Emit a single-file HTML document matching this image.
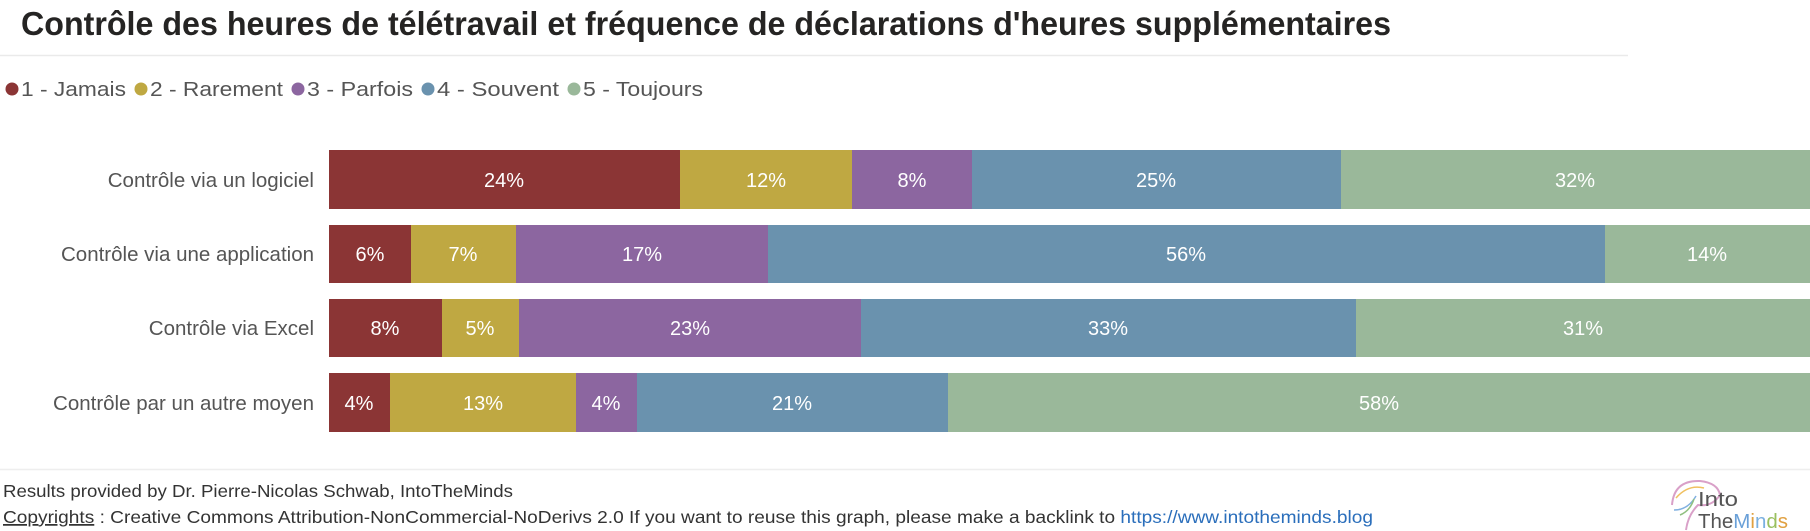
<!DOCTYPE html>
<html><head><meta charset="utf-8"><style>
html,body{margin:0;padding:0;background:#fff;}
svg{display:block;}
text{font-family:"Liberation Sans",sans-serif;}
</style></head><body>
<svg width="1810" height="531" viewBox="0 0 1810 531" xmlns="http://www.w3.org/2000/svg">
<text x="21" y="35" font-size="33" font-weight="bold" fill="#252423" textLength="1370" lengthAdjust="spacingAndGlyphs">Contrôle des heures de télétravail et fréquence de déclarations d'heures supplémentaires</text>
<line x1="0" y1="55.5" x2="1628" y2="55.5" stroke="#eaeaea" stroke-width="1.5"/>
<g font-size="20.5" fill="#555">
<circle cx="12" cy="89" r="6.5" fill="#8B3535"/><text x="21" y="96" textLength="105" lengthAdjust="spacingAndGlyphs">1 - Jamais</text>
<circle cx="141" cy="89" r="6.5" fill="#BFA842"/><text x="150" y="96" textLength="133" lengthAdjust="spacingAndGlyphs">2 - Rarement</text>
<circle cx="298" cy="89" r="6.5" fill="#8C66A0"/><text x="307" y="96" textLength="106" lengthAdjust="spacingAndGlyphs">3 - Parfois</text>
<circle cx="428" cy="89" r="6.5" fill="#6A92AE"/><text x="437" y="96" textLength="122" lengthAdjust="spacingAndGlyphs">4 - Souvent</text>
<circle cx="574" cy="89" r="6.5" fill="#9AB89A"/><text x="583" y="96" textLength="120" lengthAdjust="spacingAndGlyphs">5 - Toujours</text>
</g>
<g font-size="20.5" fill="#555" text-anchor="end">
<text x="314" y="187">Contrôle via un logiciel</text>
<text x="314" y="261">Contrôle via une application</text>
<text x="314" y="335">Contrôle via Excel</text>
<text x="314" y="410">Contrôle par un autre moyen</text>
</g>
<g>
<rect x="329" y="150" width="351" height="59" fill="#8B3535"/>
<rect x="680" y="150" width="172" height="59" fill="#BFA842"/>
<rect x="852" y="150" width="120" height="59" fill="#8C66A0"/>
<rect x="972" y="150" width="369" height="59" fill="#6A92AE"/>
<rect x="1341" y="150" width="469" height="59" fill="#9AB89A"/>

<rect x="329" y="225" width="82" height="58" fill="#8B3535"/>
<rect x="411" y="225" width="105" height="58" fill="#BFA842"/>
<rect x="516" y="225" width="252" height="58" fill="#8C66A0"/>
<rect x="768" y="225" width="837" height="58" fill="#6A92AE"/>
<rect x="1605" y="225" width="205" height="58" fill="#9AB89A"/>

<rect x="329" y="299" width="113" height="58" fill="#8B3535"/>
<rect x="442" y="299" width="77" height="58" fill="#BFA842"/>
<rect x="519" y="299" width="342" height="58" fill="#8C66A0"/>
<rect x="861" y="299" width="495" height="58" fill="#6A92AE"/>
<rect x="1356" y="299" width="454" height="58" fill="#9AB89A"/>

<rect x="329" y="373" width="61" height="59" fill="#8B3535"/>
<rect x="390" y="373" width="186" height="59" fill="#BFA842"/>
<rect x="576" y="373" width="61" height="59" fill="#8C66A0"/>
<rect x="637" y="373" width="311" height="59" fill="#6A92AE"/>
<rect x="948" y="373" width="862" height="59" fill="#9AB89A"/>
</g>
<g font-size="20" fill="#fff" text-anchor="middle">
<text x="504" y="187">24%</text><text x="766" y="187">12%</text><text x="912" y="187">8%</text><text x="1156" y="187">25%</text><text x="1575" y="187">32%</text>
<text x="370" y="261">6%</text><text x="463" y="261">7%</text><text x="642" y="261">17%</text><text x="1186" y="261">56%</text><text x="1707" y="261">14%</text>
<text x="385" y="335">8%</text><text x="480" y="335">5%</text><text x="690" y="335">23%</text><text x="1108" y="335">33%</text><text x="1583" y="335">31%</text>
<text x="359" y="410">4%</text><text x="483" y="410">13%</text><text x="606" y="410">4%</text><text x="792" y="410">21%</text><text x="1379" y="410">58%</text>
</g>
<line x1="0" y1="469.5" x2="1810" y2="469.5" stroke="#eeeeee" stroke-width="1.5"/>
<g font-size="17.5" fill="#333">
<text x="3" y="497" textLength="510" lengthAdjust="spacingAndGlyphs">Results provided by Dr. Pierre-Nicolas Schwab, IntoTheMinds</text>
<text x="3" y="523" textLength="1370" lengthAdjust="spacingAndGlyphs"><tspan text-decoration="underline">Copyrights</tspan> : Creative Commons Attribution-NonCommercial-NoDerivs 2.0 If you want to reuse this graph, please make a backlink to <tspan fill="#2a6ebb">https://www.intotheminds.blog</tspan></text>
</g>
<g>
<path d="M1672 505 q2 -25 28 -24 q18 2 20 14 q-8 12 -22 10 q-10 10 -12 25" fill="none" stroke="#d9a0c8" stroke-width="2"/>
<path d="M1676 498 q12 -14 28 -10" fill="none" stroke="#f0c060" stroke-width="1.5"/>
<path d="M1674 510 q14 0 22 -14" fill="none" stroke="#80b0e0" stroke-width="1.5"/>
<path d="M1680 515 q10 -4 14 -16" fill="none" stroke="#90c080" stroke-width="1.5"/>
<text x="1698" y="506" font-size="20" fill="#555" textLength="40" lengthAdjust="spacingAndGlyphs">Into</text>
<text x="1698" y="528" font-size="20" fill="#555" textLength="90" lengthAdjust="spacingAndGlyphs">The<tspan fill="#6aa0d8">M</tspan><tspan fill="#e0a040">i</tspan><tspan fill="#7ab0e0">n</tspan><tspan fill="#9ac060">d</tspan><tspan fill="#e0a040">s</tspan></text>
</g>
</svg>
</body></html>
